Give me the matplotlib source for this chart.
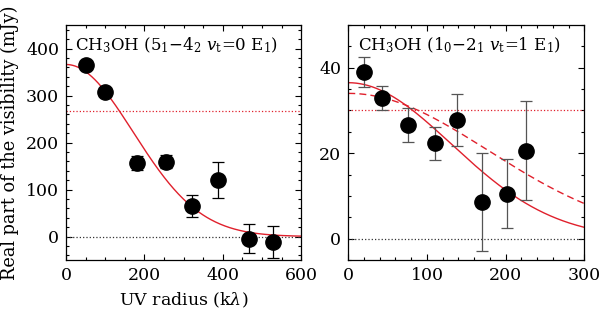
import numpy as np
import matplotlib
matplotlib.use("Agg")
import matplotlib.pyplot as plt
from matplotlib.ticker import MultipleLocator

plt.rcParams['font.family'] = ['DejaVu Serif']
plt.rcParams['mathtext.fontset'] = 'dejavuserif'

# left panel: 5_1-4_2 vt=0 E1
uv_a = [51, 100, 182, 254, 322, 387, 468, 529]
re_a = [365, 307, 156, 159, 65, 120, -5, -11]
err_a = [8, 5, 15, 14, 24, 38, 31, 34]
fit_a_amp = 366.0     # mJy
fit_a_sigma = 171.5   # klambda
level_a = 266

# right panel: 1_0-2_1 vt=1 E1
uv_b = [20, 42.5, 76.5, 110, 138, 170, 202, 226.5]
re_b = [39.1, 32.9, 26.6, 22.3, 27.7, 8.5, 10.5, 20.6]
err_b = [3.5, 2.8, 4.0, 3.8, 6.1, 11.5, 8.1, 11.5]
fit_b_amp, fit_b_sigma = 36.5, 131.0
fit_b2_amp, fit_b2_sigma = 34.0, 178.0
level_b = 30

red = '#e0202c'

fig = plt.figure(figsize=(6, 3.13), dpi=100)
ax1 = fig.add_axes([0.11, 0.1693, 0.392, 0.7508])
ax2 = fig.add_axes([0.5805, 0.1693, 0.3933, 0.7508])


def gauss(x, a, s):
    return a * np.exp(-x**2 / (2 * s**2))


def style(ax):
    ax.tick_params(which='both', direction='in', top=True, right=True,
                   labelsize=12.5, width=0.8)
    ax.tick_params(which='major', length=4.5, pad=5)
    ax.tick_params(which='minor', length=2.2)
    for sp in ax.spines.values():
        sp.set_linewidth(0.9)


xa = np.linspace(0, 600, 300)
ax1.plot(xa, gauss(xa, fit_a_amp, fit_a_sigma), color=red, lw=1.0)
ax1.axhline(level_a, color=red, ls=':', lw=0.9)
ax1.axhline(0, color='#333333', ls=':', lw=0.9)
ax1.errorbar(uv_a, re_a, yerr=err_a, fmt='o', color='black', ms=11,
             ecolor='black', elinewidth=0.9, capsize=4.5, capthick=0.9)
ax1.set_xlim(0, 600)
ax1.set_ylim(-50, 450)
ax1.xaxis.set_major_locator(MultipleLocator(200))
ax1.xaxis.set_minor_locator(MultipleLocator(50))
ax1.yaxis.set_major_locator(MultipleLocator(100))
ax1.yaxis.set_minor_locator(MultipleLocator(20))
style(ax1)
ax1.text(0.04, 0.955, r'CH$_3$OH (5$_1$$-$4$_2$ $v_{\rm t}$=0 E$_1$)',
         transform=ax1.transAxes, ha='left', va='top', fontsize=12)
ax1.set_xlabel(r'UV radius (k$\lambda$)', fontsize=12.5, labelpad=5)
ax1.set_ylabel('Real part of the visibility (mJy)', fontsize=12.8, labelpad=5)

xb = np.linspace(0, 300, 300)
ax2.plot(xb, gauss(xb, fit_b_amp, fit_b_sigma), color=red, lw=1.0)
ax2.plot(xb, gauss(xb, fit_b2_amp, fit_b2_sigma), color=red, lw=1.0,
         ls=(0, (5, 3)))
ax2.axhline(level_b, color=red, ls=':', lw=0.9)
ax2.axhline(0, color='#333333', ls=':', lw=0.9)
ax2.errorbar(uv_b, re_b, yerr=err_b, fmt='o', color='black', ms=11,
             ecolor='#555555', elinewidth=0.9, capsize=4.5, capthick=0.9)
ax2.set_xlim(0, 300)
ax2.set_ylim(-5, 50)
ax2.xaxis.set_major_locator(MultipleLocator(100))
ax2.xaxis.set_minor_locator(MultipleLocator(20))
ax2.yaxis.set_major_locator(MultipleLocator(20))
ax2.yaxis.set_minor_locator(MultipleLocator(5))
style(ax2)
ax2.text(0.04, 0.955, r'CH$_3$OH (1$_0$$-$2$_1$ $v_{\rm t}$=1 E$_1$)',
         transform=ax2.transAxes, ha='left', va='top', fontsize=12)

fig.savefig('out.png', dpi=100)
